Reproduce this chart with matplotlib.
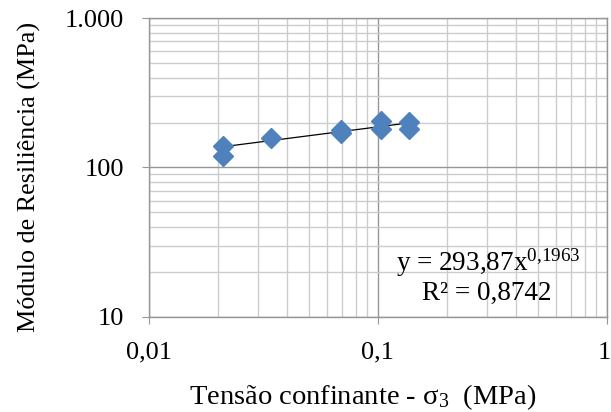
import numpy as np
import matplotlib
matplotlib.use("Agg")
import matplotlib.pyplot as plt
import matplotlib.transforms as mtransforms
from matplotlib.ticker import FixedLocator, FixedFormatter, LogLocator, NullFormatter

plt.rcParams['font.family'] = ['Liberation Serif', 'DejaVu Serif']
plt.rcParams['mathtext.fontset'] = 'custom'
plt.rcParams['mathtext.rm'] = 'Liberation Serif'
plt.rcParams['mathtext.it'] = 'Liberation Serif:italic'

# ensaios: tensão confinante (MPa) x módulo de resiliência (MPa)
sigma3 = [0.021, 0.021, 0.034, 0.069, 0.069, 0.103, 0.103, 0.137, 0.137]
mr = [140, 120, 157, 170, 178, 205, 182, 203, 182]

# modelo potência ajustado
k1 = 293.87
k2 = 0.1963
r2 = 0.8742

x_ticks = [0.01, 0.1, 1]
x_labels = ['0,01', '0,1', '1']
y_ticks = [10, 100, 1000]
y_labels = ['10', '100', '1.000']

fig = plt.figure(figsize=(6.11, 4.12), dpi=100)
ax = fig.add_axes([0.244, 0.231, 0.749, 0.725])

ax.set_xscale('log')
ax.set_yscale('log')
ax.set_xlim(0.01, 1)
ax.set_ylim(10, 1000)

ax.xaxis.set_major_locator(FixedLocator(x_ticks))
ax.xaxis.set_major_formatter(FixedFormatter(x_labels))
ax.yaxis.set_major_locator(FixedLocator(y_ticks))
ax.yaxis.set_major_formatter(FixedFormatter(y_labels))
ax.xaxis.set_minor_locator(LogLocator(base=10, subs=range(2, 10)))
ax.yaxis.set_minor_locator(LogLocator(base=10, subs=range(2, 10)))
ax.xaxis.set_minor_formatter(NullFormatter())
ax.yaxis.set_minor_formatter(NullFormatter())

ax.grid(which='major', color='#969696', linewidth=1.0)
ax.grid(which='minor', color='#cccccc', linewidth=1.0)
ax.set_axisbelow(True)

for s in ax.spines.values():
    s.set_color('#969696')
    s.set_linewidth(1.0)

ax.tick_params(which='major', length=5, color='#969696', labelsize=19)
ax.tick_params(axis='x', which='major', pad=13)
ax.tick_params(axis='y', which='major', pad=13)
ax.tick_params(which='minor', length=0)

# o rótulo "1" fica colado na borda direita
lbl = ax.get_xticklabels()[-1]
lbl.set_horizontalalignment('right')
lbl.set_transform(lbl.get_transform() + mtransforms.ScaledTranslation(4 / 100, 0, fig.dpi_scale_trans))

xs = np.linspace(min(sigma3), max(sigma3), 50)
ax.plot(xs, k1 * xs ** k2, color='black', linewidth=0.9, zorder=3)
ax.plot(sigma3, mr, linestyle='none', marker='D', markersize=10.5,
        color='#4f81bd', markeredgecolor='#4f81bd', zorder=4)

ax.text(0.74, 0.18, 'y = 293,87x$^{\\mathrm{0{,}1963}}$', transform=ax.transAxes,
        fontsize=19.5, ha='center', va='center')
ax.text(0.737, 0.08, 'R² = 0,8742', transform=ax.transAxes,
        fontsize=19.5, ha='center', va='center')

ax.set_xlabel('Tensão confinante - σ$_{\\mathrm{3}}$  (MPa)', fontsize=20.5)
ax.xaxis.set_label_coords(0.466, -0.218)
ax.set_ylabel('Módulo de Resiliência (MPa)', fontsize=18.8)
ax.yaxis.set_label_coords(-0.236, 0.468)

fig.savefig('out.png', dpi=100)
